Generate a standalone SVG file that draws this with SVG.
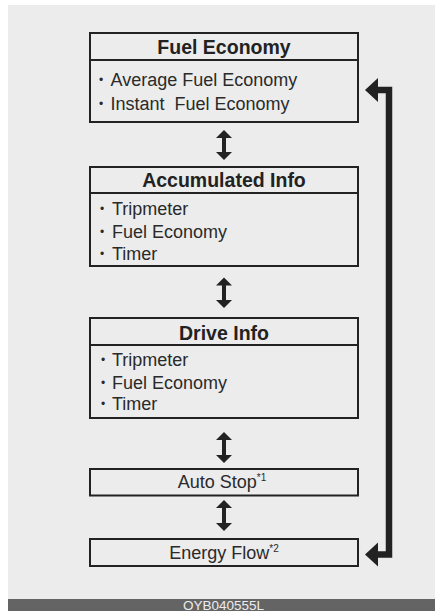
<svg xmlns="http://www.w3.org/2000/svg" width="435" height="611" viewBox="0 0 435 611">
<style>
.box{fill:none;stroke:#222;stroke-width:2}
.t{font-family:"Liberation Sans",Arial,sans-serif;font-size:19.5px;font-weight:bold;fill:#222;text-anchor:middle}
.i{font-family:"Liberation Sans",Arial,sans-serif;font-size:18px;fill:#2a2a2a;white-space:pre}
.b{font-family:"Liberation Sans",Arial,sans-serif;font-size:12px;fill:#2a2a2a}
.c{font-family:"Liberation Sans",Arial,sans-serif;font-size:18px;fill:#2a2a2a;text-anchor:middle}
.sup{font-size:10px}
.dbl{fill:#222}
</style>
<rect x="0" y="0" width="435" height="611" fill="#ffffff"/>
<rect x="8" y="5" width="427" height="606" fill="#ececec"/>
<rect x="8" y="599" width="427" height="12" fill="#646464"/>
<text x="223.5" y="609.5" font-family="Liberation Sans, Arial, sans-serif" font-size="13.5" fill="#ececec" text-anchor="middle">OYB040555L</text>

<g id="fuel-economy">
<rect class="box" x="90" y="33" width="268" height="89"/>
<line class="box" x1="90" y1="60" x2="358" y2="60"/>
<text class="t" x="224" y="53.5">Fuel Economy</text>
<text class="b" x="99" y="84">•</text>
<text class="i" x="110.5" y="86">Average Fuel Economy</text>
<text class="b" x="99" y="107.5">•</text>
<text class="i" x="110.5" y="109.5">Instant  Fuel Economy</text>
</g>

<g id="accumulated-info">
<rect class="box" x="90" y="167" width="268" height="99"/>
<line class="box" x1="90" y1="193" x2="358" y2="193"/>
<text class="t" x="224" y="187">Accumulated Info</text>
<text class="b" x="100" y="213">•</text>
<text class="i" x="112" y="215">Tripmeter</text>
<text class="b" x="100" y="235.5">•</text>
<text class="i" x="112" y="237.5">Fuel Economy</text>
<text class="b" x="100" y="257.5">•</text>
<text class="i" x="112" y="259.5">Timer</text>
</g>

<g id="drive-info">
<rect class="box" x="90" y="318" width="268" height="100"/>
<line class="box" x1="90" y1="345" x2="358" y2="345"/>
<text class="t" x="224" y="339.5">Drive Info</text>
<text class="b" x="101" y="364">•</text>
<text class="i" x="112" y="366">Tripmeter</text>
<text class="b" x="101" y="386.5">•</text>
<text class="i" x="112" y="388.5">Fuel Economy</text>
<text class="b" x="101" y="408">•</text>
<text class="i" x="112" y="410">Timer</text>
</g>

<g id="auto-stop">
<rect class="box" x="90" y="469" width="268" height="26.5"/>
<text class="c" x="222" y="487.5">Auto Stop<tspan class="sup" dy="-7">*1</tspan></text>
</g>

<g id="energy-flow">
<rect class="box" x="90" y="539" width="268" height="27"/>
<text class="c" x="224" y="558.5">Energy Flow<tspan class="sup" dy="-7">*2</tspan></text>
</g>

<g id="connectors">
<g class="dbl">
<path d="M224 130 L232 138 L226 138 L226 152 L232 152 L224 160 L216 152 L222 152 L222 138 L216 138 Z"/>
<path d="M224 277.5 L232 285.5 L226 285.5 L226 300 L232 300 L224 308 L216 300 L222 300 L222 285.5 L216 285.5 Z"/>
<path d="M224 432 L232 440 L226 440 L226 455 L232 455 L224 463 L216 455 L222 455 L222 440 L216 440 Z"/>
<path d="M224 500 L232 508 L226 508 L226 523 L232 523 L224 531 L216 523 L222 523 L222 508 L216 508 Z"/>
</g>
<polyline points="376,90 389,90 389,554.5 376,554.5" fill="none" stroke="#222" stroke-width="6.5" stroke-linejoin="miter"/>
<polygon points="365,90 378,78 378,102" fill="#222"/>
<polygon points="365,554.5 378,542.5 378,566.5" fill="#222"/>
</g>
</svg>
